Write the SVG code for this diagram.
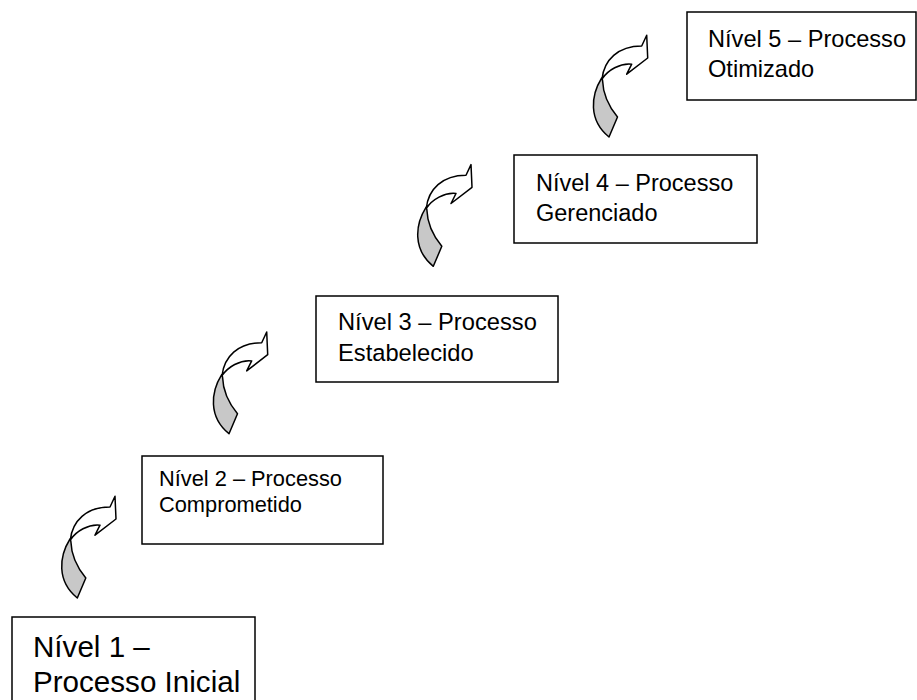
<svg xmlns="http://www.w3.org/2000/svg" xmlns:xlink="http://www.w3.org/1999/xlink" width="917" height="700" viewBox="0 0 917 700">
<style>
.box{fill:#fff;stroke:#000;stroke-width:1.5}
.t{font-family:"Liberation Sans",Arial,sans-serif;fill:#000}
.w{fill:#fff;stroke:#000;stroke-width:1.5;stroke-linejoin:round}
.g{fill:#c8c8c8;stroke:#000;stroke-width:1.5;stroke-linejoin:round}
</style>
<defs>
<g id="carrow">
<path class="g" d="M11.7,48 C1,65 -2,90 19,107 L27.5,87 C20,78 13,65 12.5,50 Z"/>
<path class="w" d="M51.7,16 L56.7,5.3 L57.7,28 L36.7,44.2 L41.7,34.2 C30,33 18,40 12,49 C14,30 28,16 51.7,16 Z"/>
</g>
</defs>
<rect width="917" height="700" fill="#fff"/>
<g id="connectors">
<use xlink:href="#carrow" href="#carrow" transform="translate(58.3,491)"/>
<use xlink:href="#carrow" href="#carrow" transform="translate(210,326.7)"/>
<use xlink:href="#carrow" href="#carrow" transform="translate(414.3,159.3)"/>
<use xlink:href="#carrow" href="#carrow" transform="translate(590,30)"/>
</g>
<g id="n1">
<rect class="box" x="12" y="617" width="243" height="100"/>
<text class="t" font-size="29.6" x="33" y="657">Nível 1 –</text>
<text class="t" font-size="29.6" x="33" y="692">Processo Inicial</text>
</g>
<g id="n2">
<rect class="box" x="142" y="456" width="241" height="88"/>
<text class="t" font-size="21.8" x="159" y="486">Nível 2 – Processo</text>
<text class="t" font-size="21.8" x="159" y="512">Comprometido</text>
</g>
<g id="n3">
<rect class="box" x="316" y="296" width="242" height="86"/>
<text class="t" font-size="23.7" x="338" y="330">Nível 3 – Processo</text>
<text class="t" font-size="23.7" x="338" y="361">Estabelecido</text>
</g>
<g id="n4">
<rect class="box" x="514" y="155" width="243" height="88"/>
<text class="t" font-size="23.5" x="536" y="191">Nível 4 – Processo</text>
<text class="t" font-size="23.5" x="536" y="221">Gerenciado</text>
</g>
<g id="n5">
<rect class="box" x="687" y="12" width="229" height="88"/>
<text class="t" font-size="23.6" x="708" y="47">Nível 5 – Processo</text>
<text class="t" font-size="23.6" x="708" y="77">Otimizado</text>
</g>
</svg>
